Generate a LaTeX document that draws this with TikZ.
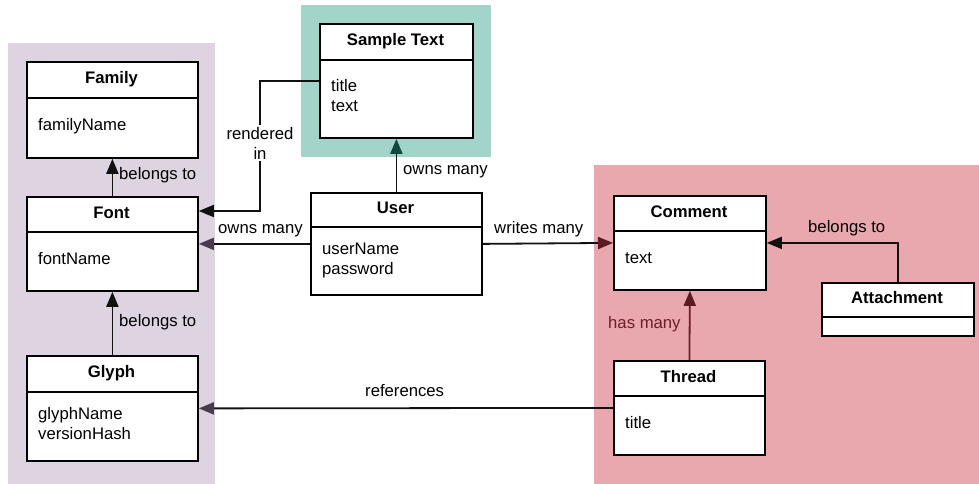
\documentclass[tikz,border=0pt]{standalone}
\usepackage{fontspec}
\setmainfont{Liberation Sans}
\usetikzlibrary{arrows.meta}

\definecolor{fontbg}{HTML}{DED3E1}
\definecolor{samplebg}{HTML}{A3D4C9}
\definecolor{commentbg}{HTML}{E8A8AD}
\definecolor{plumtip}{HTML}{4B3A50}
\definecolor{winetip}{HTML}{5C1A22}
\definecolor{wineline}{HTML}{6A1F2A}
\definecolor{pinetip}{HTML}{0E4A3E}
\definecolor{inkline}{HTML}{111111}

\tikzset{
  x=1pt, y=-1pt,
  txt/.style={font=\fontsize{16.7}{20}\selectfont, inner sep=0pt},
  classbox/.style={draw=black, fill=white, line width=1.8pt, inner sep=0pt, anchor=north west},
  divider/.style={draw=black, line width=1.8pt},
  classtitle/.style={txt, font=\fontsize{16.7}{20}\selectfont\bfseries, anchor=base},
  classattr/.style={txt, anchor=west},
  conn/.style={draw=inkline, line width=1.8pt},
  tipk/.style={-{Triangle[length=15pt,width=12pt]}},
  tipplum/.style={-{Triangle[length=15pt,width=12pt,color=plumtip]}},
  tipwine/.style={-{Triangle[length=15pt,width=12pt,color=winetip]}},
  tippine/.style={-{Triangle[length=15pt,width=12pt,color=pinetip]}},
  lbl/.style={txt},
}

% attribute list: lines split by \\, each line 20pt tall so the block
% centres on its middle line
\newcommand\attrstrut{\rule[-7.5pt]{0pt}{20pt}}
\newcommand\attrlist[1]{{\def\\{\attrstrut\egroup\hbox\bgroup}\vbox{\hbox{#1\attrstrut}}}}

% #1 name, #2 left, #3 top, #4 right, #5 divider, #6 bottom, #7 title, #8 attributes
\newcommand\umlclass[8]{%
  \node[classbox, minimum width={#4pt-#2pt}, minimum height={#6pt-#3pt}] (#1) at (#2,#3) {};
  \draw[divider] (#2,#5) -- (#4,#5);
  \node[classtitle] (#1-title) at ({(#2+#4)/2},{(#3+#5)/2+4}) {#7};
  \node[classattr] (#1-attr) at ({#2+12},{(#5+#6)/2+1}) {\attrlist{#8}};
}

\begin{document}
\begin{tikzpicture}
\useasboundingbox (0,0) rectangle (979,484);

% package areas
\fill[fontbg] (8,43) rectangle (215,484);
\fill[samplebg] (301,5) rectangle (491,157);
\fill[commentbg] (594,165) rectangle (979,484);

% classes
\umlclass{family}{26}{61}{197}{98}{157}{Family}{familyName}
\umlclass{font}{26}{196}{197}{232}{290}{Font}{fontName}
\umlclass{glyph}{26}{355}{197}{392}{460}{Glyph}{glyphName\\versionHash}
\umlclass{sample}{319}{23}{472}{60}{137}{Sample Text}{title\\text}
\umlclass{user}{310}{192}{481}{227}{294}{User}{userName\\password}
\umlclass{comment}{613}{195}{765}{231}{289}{Comment}{text}
\umlclass{attach}{821}{282}{973}{317}{335}{Attachment}{}
\umlclass{thread}{613}{360}{764}{396}{454}{Thread}{title}

% relations
\draw[conn, tipk] (font.north) -- (family.south);
\node[lbl, anchor=base west] (l-fontfam) at (119,179) {belongs to};

\draw[conn, tipk] (glyph.north) -- (font.south);
\node[lbl, anchor=base west] (l-glyphfont) at (119,326) {belongs to};

\coordinate (rbend) at (260,211);
\draw[conn, tipk] (sample.west) -| (rbend) -- (font.east |- rbend);
\node[lbl, fill=white, align=center, inner sep=2pt] (l-rendered) at (260,143) {rendered\\in};

\draw[conn, tippine] (user.north) -- (sample.south);
\node[lbl, anchor=base west] (l-ownsample) at (403,174) {owns many};

\draw[conn, tipplum] (user.west) -- (font.east);
\node[lbl, anchor=base west] (l-ownfont) at (218,233) {owns many};

\draw[conn, tipwine] (user.east) -- (comment.west);
\node[lbl, anchor=base west] (l-writes) at (494,233) {writes many};

\draw[conn, tipk] (attach.north) |- (comment.east);
\node[lbl, anchor=base west] (l-attach) at (808,232) {belongs to};

\draw[conn, draw=wineline, tipwine] (thread.north) -- (comment.south);
\node[lbl, anchor=base west, text=wineline] (l-hasmany) at (608,328) {has many};

\draw[conn, tipplum] (thread.west) -- (glyph.east);
\node[lbl, anchor=base west] (l-refs) at (365,396) {references};
\end{tikzpicture}
\end{document}
